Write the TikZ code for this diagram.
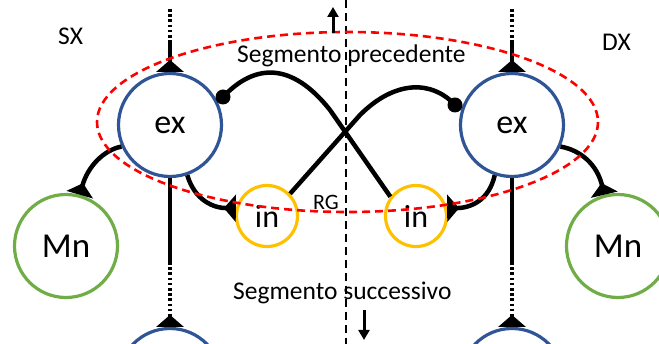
\documentclass[tikz,border=0pt]{standalone}
\usepackage{fontspec}
\setmainfont{Carlito}
\usetikzlibrary{arrows.meta}
\definecolor{exblue}{HTML}{2F5597}
\definecolor{mngreen}{HTML}{70AD47}
\definecolor{ingold}{HTML}{FFC000}
\definecolor{rgred}{HTML}{FF0000}
\begin{document}
\begin{tikzpicture}[x=1pt,y=-1pt,
  cell/.style={circle, line width=3.2pt, inner sep=0pt},
  exnode/.style={cell, draw=exblue, minimum size=103pt, font=\fontsize{34}{36}\selectfont},
  mnnode/.style={cell, draw=mngreen, minimum size=103pt, font=\fontsize{35}{36}\selectfont},
  innode/.style={cell, draw=ingold, minimum size=61pt, font=\fontsize{32}{34}\selectfont},
  wire/.style={line width=4.5pt, line cap=butt},
  dotwire/.style={wire, line width=3.8pt, dash pattern=on 2.6pt off 2.6pt},
  syn/.style={-{Triangle[reversed,width=27pt,length=12pt]}},
  label/.style={font=\fontsize{25.5}{28}\selectfont, inner sep=0pt},
  flow/.style={line width=3pt, -{Triangle[width=11pt,length=10pt]}}]
\useasboundingbox (0,0) rectangle (659,344);
\clip (0,0) rectangle (659,344);

% cells of the two sides
\node[exnode] (exL) at (170,125) {ex};
\node[exnode] (exR) at (512,125) {ex};
\node[mnnode] (mnL) at (66,246) {Mn};
\node[mnnode] (mnR) at (618,246) {Mn};
\node[innode] (inL) at (267,216) {in};
\node[innode] (inR) at (416,216) {in};
\node[exnode] (exLb) at (170,380) {};
\node[exnode] (exRb) at (512,380) {};

% vertical chain from the previous segment
\coordinate (topL) at (170,9);
\coordinate (midL) at (170,42);
\coordinate (topR) at (512,9);
\coordinate (midR) at (512,42);
\draw[dotwire] (topL) -- (midL);
\draw[wire,syn] (midL) -- (exL.north);
\draw[dotwire] (topR) -- (midR);
\draw[wire,syn] (midR) -- (exR.north);

% vertical chain to the next segment
\coordinate (lowL) at (170,262);
\coordinate (lowR) at (512,262);
\draw[wire] (exL.south) -- (lowL);
\draw[dotwire,syn] (lowL) -- (exLb.north);
\draw[wire] (exR.south) -- (lowR);
\draw[dotwire,syn] (lowR) -- (exRb.north);

% ex -> Mn
\draw[wire,syn] (exL.204) .. controls (104,150) and (88,166) .. (mnL.75);
\draw[wire,syn] (exR.336) .. controls (580,150) and (597,164) .. (mnR.105);

% ex -> in (same side)
\draw[wire,syn] (exL.289) .. controls (195,201) and (214,208) .. (inL.166);
\draw[wire,syn] (exR.251) .. controls (489,201) and (470,208) .. (inR.14);

% crossed connections ex -> in (opposite side)
\coordinate (dotL) at (223,97);
\coordinate (dotR) at (455,105);
\coordinate (bendL) at (330,110);
\coordinate (bendR) at (360,115);
\draw[wire] (dotL) .. controls (255,63) and (292,62) .. (bendL) -- (inR.143);
\draw[wire] (dotR) .. controls (432,80) and (395,80) .. (bendR) -- (inL.44);
\fill (dotL) circle (7.5pt);
\fill (dotR) circle (7.5pt);

% midline and segment boundary
\coordinate (midTop) at (346,0);
\coordinate (midBot) at (346,344);
\draw[line width=2.3pt, dash pattern=on 8pt off 5pt] (midTop) -- (midBot);
\draw[rgred, line width=2.6pt, dash pattern=on 8pt off 5pt] (347.5,122) ellipse [x radius=250.5, y radius=90];

% direction arrows
\coordinate (upA) at (333,33);
\coordinate (upB) at (333,7);
\coordinate (dnA) at (364,310);
\coordinate (dnB) at (364,340);
\draw[flow] (upA) -- (upB);
\draw[flow] (dnA) -- (dnB);

% labels
\node[label, anchor=base west] (sx) at (58,45) {SX};
\node[label, anchor=base west] (dx) at (602,51) {DX};
\node[label, anchor=base west] (prec) at (237,63) {Segmento precedente};
\node[label, anchor=base west] (succ) at (233,300) {Segmento successivo};
\node[font=\fontsize{22}{24}\selectfont, inner sep=0pt, anchor=base west] (rg) at (313,210) {RG};
\end{tikzpicture}
\end{document}
